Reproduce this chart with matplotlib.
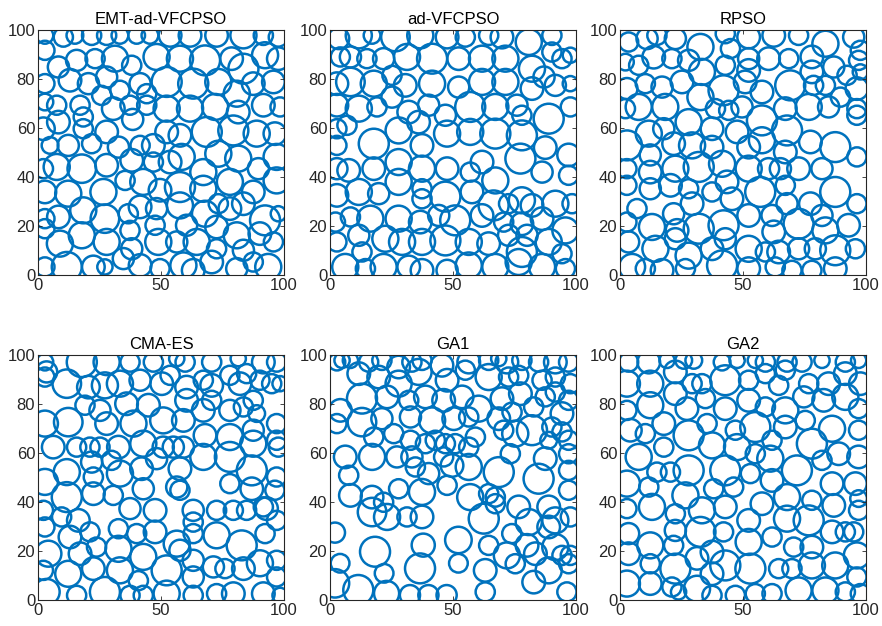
import matplotlib
matplotlib.use('Agg')
import matplotlib.pyplot as plt
from matplotlib.patches import Circle

plt.rcParams['font.family'] = ['Liberation Sans', 'DejaVu Sans']

titles = ['EMT-ad-VFCPSO', 'ad-VFCPSO', 'RPSO', 'CMA-ES', 'GA1', 'GA2']

# each circle: (x centre, y centre, radius)
# ---------------- EMT-ad-VFCPSO ----------------
emt = [
    (2.8, 97.8, 3.4), (10.3, 97.1, 3.9), (15.0, 97.8, 3.4), (21.8, 97.8, 3.9), (27.9, 97.8, 3.9),
    (33.3, 97.8, 3.4), (40.1, 97.8, 3.4), (45.5, 97.8, 3.4), (53.7, 97.8, 4.6), (61.8, 97.8, 4.6),
    (72.6, 97.8, 4.6), (83.5, 97.8, 5.3), (91.6, 97.8, 3.9), (97.7, 97.1, 3.9),
    (2.8, 91.7, 3.9), (15.7, 87.6, 4.3), (23.2, 88.3, 3.9), (31.3, 88.3, 5.3), (38.1, 85.6, 3.9),
    (48.2, 89.0, 5.3), (57.7, 88.3, 5.3), (67.9, 87.6, 6.1), (78.7, 88.3, 4.6), (83.5, 84.2, 6.1),
    (92.3, 89.7, 5.3), (97.7, 88.3, 4.6),
    (2.8, 78.1, 3.9), (8.3, 84.9, 4.3), (13.0, 79.5, 4.6), (20.5, 78.1, 4.3), (27.9, 80.8, 4.3),
    (33.3, 75.4, 3.9), (41.5, 78.1, 4.3), (44.2, 74.0, 3.9), (52.3, 78.8, 6.1), (63.1, 78.1, 6.1),
    (73.3, 78.8, 5.3), (80.8, 74.0, 5.3), (87.5, 78.1, 4.6), (95.7, 78.8, 4.6),
    (2.8, 70.6, 3.4), (7.6, 69.3, 3.9), (8.3, 62.4, 4.6), (17.1, 69.3, 3.9), (18.4, 64.5, 3.9),
    (25.9, 73.3, 3.9), (30.6, 67.9, 4.6), (37.4, 69.3, 3.9), (38.5, 63.5, 4.3), (44.2, 69.3, 3.9),
    (52.3, 67.9, 5.3), (61.8, 67.9, 5.3), (72.0, 68.6, 5.3), (81.4, 66.5, 4.6), (91.6, 69.3, 4.6),
    (98.4, 68.6, 3.9),
    (2.2, 59.7, 4.6), (4.9, 52.9, 3.4), (12.3, 52.9, 4.3), (18.4, 59.7, 3.9), (21.8, 53.6, 3.9),
    (27.9, 58.4, 4.6), (32.7, 52.2, 4.3), (41.5, 52.9, 3.9), (46.9, 52.9, 4.6), (52.3, 58.4, 4.6),
    (57.7, 57.0, 4.6), (68.6, 58.4, 6.1), (79.4, 59.0, 6.1), (88.9, 57.7, 5.3), (96.3, 57.7, 4.6),
    (2.2, 43.4, 3.9), (7.6, 44.1, 5.3), (17.8, 43.4, 5.8), (27.9, 44.8, 4.6), (38.1, 46.8, 4.6),
    (46.9, 46.1, 3.9), (53.7, 46.1, 4.6), (58.4, 48.2, 5.3), (67.2, 42.0, 5.3), (73.3, 49.5, 5.3),
    (81.4, 47.5, 5.3), (89.6, 43.4, 4.3), (97.0, 48.2, 5.3),
    (2.8, 33.9, 4.6), (12.3, 33.2, 5.3), (26.6, 33.9, 5.3), (35.4, 38.6, 3.9), (42.8, 38.0, 5.3),
    (49.6, 34.6, 4.6), (57.7, 35.9, 6.1), (67.2, 35.2, 5.3), (78.0, 38.0, 5.3), (87.5, 33.9, 4.6),
    (97.0, 38.6, 5.3),
    (2.8, 23.0, 3.9), (8.3, 23.7, 4.6), (18.4, 26.4, 5.3), (27.2, 23.0, 5.8), (36.7, 25.0, 3.9),
    (41.5, 27.8, 4.6), (48.2, 27.1, 4.3), (57.7, 28.4, 5.3), (67.9, 25.0, 5.3), (73.3, 29.1, 3.9),
    (78.0, 27.1, 4.6), (83.5, 29.1, 4.6), (92.3, 22.3, 6.1), (97.7, 25.0, 3.1),
    (2.8, 18.9, 3.9), (8.9, 12.8, 5.3), (17.8, 16.2, 5.3), (27.9, 13.5, 5.3), (37.4, 18.2, 3.9),
    (38.1, 10.7, 4.3), (47.6, 20.3, 3.9), (48.9, 13.5, 5.3), (56.4, 13.5, 4.3), (60.4, 20.3, 4.3),
    (64.5, 13.5, 5.3), (72.6, 19.6, 4.6), (72.6, 10.7, 3.9), (80.8, 16.2, 5.3), (83.5, 10.1, 4.3),
    (90.2, 16.9, 4.6), (95.7, 13.5, 3.9),
    (2.8, 3.3, 3.9), (11.7, 3.3, 6.1), (22.5, 3.3, 4.6), (27.2, 3.3, 3.1), (34.7, 6.7, 4.3),
    (41.5, 3.9, 4.6), (49.6, 2.6, 3.9), (59.1, 3.9, 5.3), (63.1, 1.9, 4.6), (70.6, 5.3, 4.6),
    (80.8, 2.6, 4.3), (87.5, 5.3, 3.9), (93.6, 3.3, 5.3),
]

# ---------------- ad-VFCPSO ----------------
advf = [
    (3.5, 96.5, 4.3), (11.7, 97.8, 5.3), (17.1, 97.8, 3.4), (26.6, 97.1, 5.8), (36.7, 97.8, 5.3),
    (47.6, 97.1, 4.6), (55.0, 97.1, 3.9), (64.5, 97.8, 3.9), (69.9, 97.1, 4.6), (80.8, 95.1, 5.3),
    (90.2, 97.8, 3.9),
    (4.2, 89.0, 3.9), (8.3, 89.0, 4.3), (15.0, 88.3, 3.9), (21.8, 88.3, 4.3), (31.3, 89.0, 5.3),
    (41.5, 88.3, 6.1), (52.3, 88.3, 4.6), (61.8, 88.3, 5.3), (71.3, 88.3, 5.3), (82.1, 84.2, 5.3),
    (90.2, 91.0, 3.9), (94.3, 88.3, 3.9), (97.7, 89.7, 3.1),
    (2.8, 78.1, 4.6), (8.3, 78.8, 5.8), (17.8, 78.1, 5.3), (25.2, 81.5, 3.9), (30.6, 77.4, 4.6),
    (41.5, 78.1, 5.3), (52.3, 76.7, 4.3), (61.8, 78.8, 5.3), (71.3, 78.8, 5.3), (82.1, 76.1, 4.6),
    (87.0, 80.8, 4.3), (91.6, 77.4, 4.3), (97.7, 78.1, 3.1),
    (2.8, 69.3, 4.6), (11.7, 67.9, 5.3), (19.1, 68.6, 3.9), (25.2, 72.6, 4.3), (32.0, 66.5, 4.6),
    (40.1, 69.3, 4.3), (46.9, 65.2, 4.3), (57.0, 68.6, 6.1), (67.2, 68.6, 5.3), (76.0, 69.3, 4.3),
    (78.0, 65.2, 3.9), (88.9, 63.8, 6.1), (97.7, 68.6, 3.9),
    (2.8, 59.7, 3.9), (6.9, 61.1, 3.9), (17.8, 53.6, 6.1), (27.9, 59.0, 5.3), (36.0, 62.4, 4.6),
    (37.4, 52.9, 4.6), (47.6, 57.7, 5.3), (57.0, 58.4, 5.3), (67.2, 57.7, 6.1), (78.0, 57.0, 6.1),
    (87.5, 52.0, 4.6), (97.0, 49.0, 4.6), (2.8, 52.9, 3.9),
    (2.8, 43.4, 4.3), (7.6, 42.7, 4.6), (17.8, 43.4, 4.6), (27.9, 46.1, 5.3), (37.4, 43.4, 5.3),
    (47.6, 43.4, 4.6), (57.0, 42.0, 3.9), (61.8, 46.1, 4.6), (67.2, 38.6, 5.3), (77.4, 47.5, 6.1),
    (86.2, 42.0, 4.3), (97.0, 40.7, 3.9),
    (2.8, 32.5, 4.6), (11.7, 33.9, 5.3), (19.8, 33.2, 4.3), (27.9, 38.0, 5.3), (37.4, 35.2, 3.9),
    (37.4, 31.1, 3.9), (46.9, 32.0, 6.1), (57.7, 33.9, 4.6), (66.5, 28.4, 6.1), (72.6, 29.1, 3.9),
    (78.0, 30.5, 5.3), (82.1, 28.4, 4.6), (91.6, 29.1, 5.3), (98.4, 29.1, 3.9),
    (2.2, 21.6, 3.9), (8.3, 23.7, 3.9), (16.4, 23.0, 5.3), (27.9, 23.0, 5.3), (36.7, 21.6, 4.6),
    (44.2, 24.3, 4.3), (50.9, 22.3, 6.1), (61.8, 24.3, 4.6), (70.6, 21.6, 3.9), (78.0, 20.9, 4.6),
    (86.2, 23.0, 4.6), (95.7, 18.2, 5.3),
    (2.8, 13.5, 3.9), (11.7, 16.2, 4.3), (13.0, 9.4, 3.9), (22.5, 14.8, 5.3), (29.3, 13.5, 5.3),
    (37.4, 13.5, 5.3), (46.9, 14.1, 6.1), (56.4, 13.5, 5.3), (64.5, 12.8, 4.6), (72.6, 16.2, 4.3),
    (80.1, 16.2, 4.3), (78.0, 9.4, 6.1), (88.9, 13.5, 5.3), (94.3, 8.7, 3.9),
    (6.2, 3.3, 5.3), (14.4, 2.6, 3.9), (21.8, 3.3, 5.3), (32.0, 3.3, 4.6), (37.4, 1.9, 4.6),
    (47.6, 1.9, 4.3), (56.4, 3.9, 5.3), (67.2, 3.3, 5.3), (76.7, 5.3, 5.3), (86.2, 3.3, 5.3),
    (95.7, 2.6, 3.9),
]

# ---------------- RPSO ----------------
rpso = [
    (3.5, 95.1, 3.9), (11.0, 96.5, 4.3), (15.0, 97.8, 3.9), (22.5, 96.5, 4.3), (32.7, 93.1, 5.3),
    (42.8, 98.5, 3.9), (44.9, 92.4, 3.9), (52.3, 97.1, 4.6), (62.5, 97.8, 4.6), (72.6, 97.8, 3.9),
    (83.5, 94.4, 5.3), (95.0, 97.1, 4.3), (97.7, 91.7, 3.9),
    (2.2, 86.9, 3.4), (7.6, 85.6, 3.9), (13.7, 88.9, 4.6), (21.1, 88.3, 3.9), (27.9, 87.6, 4.3),
    (33.3, 82.9, 5.3), (42.8, 85.6, 3.9), (52.3, 88.3, 4.3), (52.3, 83.5, 4.6), (60.4, 88.3, 4.6),
    (68.6, 88.3, 3.9), (78.0, 89.0, 4.6), (78.0, 82.9, 4.6), (86.9, 84.9, 4.3), (92.3, 81.5, 3.9),
    (97.0, 87.6, 3.9), (97.7, 82.9, 3.1),
    (2.8, 76.1, 4.3), (10.3, 78.1, 3.9), (17.1, 76.7, 4.3), (25.2, 78.8, 4.6), (32.7, 72.6, 5.3),
    (42.1, 75.4, 6.1), (50.9, 78.8, 4.6), (57.7, 74.7, 4.6), (69.2, 77.4, 6.1), (78.7, 77.4, 3.9),
    (83.5, 77.4, 3.9), (89.6, 72.6, 3.9), (96.3, 76.1, 4.6),
    (2.2, 67.9, 3.9), (7.6, 68.6, 5.3), (18.4, 68.6, 5.3), (27.9, 62.4, 5.3), (38.8, 67.9, 3.9),
    (44.2, 67.2, 3.9), (49.6, 68.6, 4.3), (57.7, 63.1, 6.1), (67.2, 67.9, 4.6), (76.7, 68.6, 5.3),
    (84.8, 68.6, 4.3), (96.3, 67.9, 3.9), (96.3, 65.2, 3.9),
    (2.8, 52.9, 6.1), (11.7, 57.7, 5.3), (17.8, 59.7, 4.3), (21.8, 53.6, 4.6), (29.3, 52.9, 5.3),
    (37.4, 59.7, 4.6), (37.4, 52.2, 4.6), (47.6, 58.4, 4.6), (52.3, 52.2, 4.6), (57.7, 55.0, 5.3),
    (67.9, 59.0, 6.1), (67.2, 50.2, 4.6), (77.4, 54.3, 4.6), (87.5, 52.2, 6.1),
    (2.8, 43.4, 3.9), (12.3, 49.0, 4.3), (12.3, 42.0, 4.6), (22.5, 43.4, 5.3), (32.0, 44.1, 6.1),
    (41.5, 45.4, 5.3), (52.3, 43.4, 5.3), (60.4, 43.4, 4.3), (65.2, 43.4, 4.3), (72.6, 43.4, 4.6),
    (82.1, 43.4, 4.3), (96.3, 48.2, 3.9),
    (2.8, 36.6, 3.9), (12.3, 35.2, 4.3), (20.5, 36.6, 4.6), (27.9, 35.2, 3.9), (29.3, 29.1, 4.6),
    (37.4, 33.9, 3.9), (43.5, 38.0, 4.6), (45.5, 31.1, 4.6), (57.0, 33.9, 6.1), (67.2, 36.6, 3.9),
    (67.9, 29.1, 4.3), (77.4, 29.1, 4.6), (87.5, 33.9, 6.1), (96.3, 29.1, 3.9),
    (2.8, 21.6, 3.9), (6.9, 27.1, 3.9), (13.0, 19.6, 5.3), (21.8, 25.0, 4.3), (23.2, 18.2, 4.6),
    (32.0, 18.9, 6.1), (42.1, 20.3, 6.1), (52.3, 24.3, 4.6), (61.8, 24.3, 4.3), (62.5, 17.6, 4.6),
    (72.6, 20.9, 6.1), (82.1, 24.3, 4.3), (83.5, 18.2, 5.3), (92.9, 20.3, 4.6),
    (3.5, 13.5, 4.3), (14.4, 10.7, 5.3), (22.5, 14.8, 4.3), (27.9, 7.9, 5.3), (37.4, 10.7, 4.6),
    (42.8, 14.8, 4.3), (52.3, 10.7, 5.3), (59.1, 9.4, 3.9), (64.5, 9.4, 4.6), (72.6, 10.7, 4.3),
    (79.4, 10.7, 4.3), (87.5, 10.1, 6.1), (95.7, 10.7, 3.9),
    (4.9, 3.3, 5.3), (10.3, 2.6, 3.9), (17.1, 1.9, 4.6), (26.6, 2.6, 3.9), (41.5, 3.9, 6.1),
    (52.3, 2.6, 4.6), (63.1, 3.3, 3.9), (69.9, 1.9, 3.9), (78.0, 1.9, 3.9), (87.5, 2.6, 4.6),
]

# ---------------- CMA-ES ----------------
cmaes = [
    (2.8, 97.1, 3.4), (3.5, 93.1, 4.3), (17.8, 97.1, 6.1), (27.9, 97.1, 5.3), (37.4, 97.1, 3.9),
    (46.9, 97.1, 3.9), (56.4, 98.5, 3.1), (59.8, 97.1, 3.9), (70.6, 97.1, 3.9), (81.4, 98.5, 3.1),
    (91.6, 97.1, 4.6), (97.0, 97.1, 3.9),
    (2.8, 91.0, 3.9), (11.7, 88.3, 5.8), (20.5, 86.9, 4.6), (27.2, 87.6, 5.3), (33.3, 88.3, 5.3),
    (41.5, 89.7, 4.3), (50.3, 88.3, 4.6), (53.7, 91.7, 3.9), (60.4, 86.9, 4.6), (67.2, 89.7, 3.9),
    (70.6, 87.6, 4.6), (78.0, 91.7, 3.9), (82.1, 88.3, 4.6), (84.8, 92.4, 3.9), (90.2, 89.7, 3.9),
    (95.0, 88.3, 3.9), (98.4, 88.3, 3.1),
    (2.8, 72.0, 5.3), (12.3, 72.6, 5.8), (19.1, 79.5, 3.9), (25.2, 77.4, 4.3), (27.9, 72.0, 4.6),
    (36.0, 80.1, 4.6), (38.8, 72.0, 5.3), (44.9, 79.5, 4.6), (50.9, 73.3, 5.3), (59.1, 73.3, 4.6),
    (60.4, 81.5, 4.6), (67.2, 77.4, 4.6), (70.6, 81.5, 3.9), (78.0, 77.4, 4.3), (83.5, 78.8, 3.9),
    (87.5, 81.5, 3.9), (88.9, 76.1, 3.4), (97.0, 72.0, 3.9),
    (6.2, 62.4, 4.6), (15.7, 62.4, 3.9), (21.1, 62.4, 3.9), (25.2, 62.4, 3.9), (32.7, 62.4, 4.6),
    (42.8, 63.8, 5.3), (50.9, 62.4, 4.3), (55.0, 62.4, 4.3), (59.1, 62.4, 4.3), (67.2, 58.4, 5.3),
    (67.9, 67.2, 4.6), (78.0, 66.5, 5.3), (78.0, 58.4, 6.1), (87.5, 63.8, 5.3), (87.5, 69.3, 4.3),
    (97.0, 65.2, 3.9), (97.7, 62.4, 3.9),
    (2.8, 48.2, 5.3), (11.7, 52.2, 5.3), (21.8, 56.3, 4.3), (22.5, 50.2, 3.9), (29.9, 57.0, 3.9),
    (33.3, 51.6, 5.3), (42.1, 53.6, 4.6), (48.2, 57.7, 4.3), (57.7, 53.6, 4.6), (56.4, 46.1, 4.3),
    (78.0, 47.5, 3.9), (86.9, 52.9, 6.1), (97.0, 50.2, 3.9),
    (11.7, 42.0, 6.1), (22.5, 43.4, 4.6), (30.6, 42.7, 3.9), (42.8, 45.4, 4.3), (57.7, 44.8, 3.9),
    (86.9, 45.4, 4.6), (91.6, 38.0, 3.9), (96.3, 44.8, 3.9),
    (2.2, 36.6, 3.9), (9.6, 33.9, 3.9), (16.4, 32.5, 4.6), (37.4, 37.3, 4.3), (47.6, 36.6, 4.6),
    (63.1, 36.6, 4.3), (63.1, 31.8, 3.9), (72.6, 36.6, 3.9), (79.4, 36.6, 3.9), (84.8, 36.6, 3.9),
    (92.9, 37.3, 4.6), (97.0, 32.5, 3.9),
    (2.8, 29.8, 3.9), (13.0, 25.7, 4.6), (21.1, 27.8, 3.9), (32.7, 29.1, 3.9), (40.1, 27.1, 3.9),
    (47.6, 27.8, 4.6), (56.4, 23.0, 5.3), (63.1, 27.1, 3.9), (72.6, 26.4, 5.3), (82.8, 22.3, 6.1),
    (92.3, 27.1, 3.9),
    (4.2, 18.9, 5.3), (17.1, 18.9, 4.6), (23.8, 21.6, 3.9), (32.7, 20.9, 5.3), (42.8, 17.6, 5.3),
    (52.3, 12.1, 6.1), (57.7, 20.3, 4.3), (63.1, 16.2, 4.3), (71.3, 13.5, 4.3), (76.0, 12.8, 3.9),
    (83.5, 12.8, 4.6), (90.2, 15.0, 5.3), (97.0, 16.2, 3.9), (97.0, 9.4, 3.9),
    (2.2, 12.1, 3.9), (12.3, 10.7, 5.3), (22.5, 12.8, 4.6), (33.3, 12.1, 5.3), (40.8, 7.9, 3.9),
    (63.1, 9.4, 4.3),
    (3.5, 3.3, 5.3), (15.7, 1.9, 3.9), (27.2, 3.3, 6.1), (37.4, 1.9, 3.9), (42.8, 1.9, 3.9),
    (52.3, 2.6, 5.3), (63.1, 1.9, 3.9), (72.6, 2.6, 3.9), (79.4, 2.6, 4.6), (91.6, 2.6, 4.6),
    (98.4, 1.9, 3.1),
]

# ---------------- GA1 ----------------
ga1 = [
    (2.8, 97.1, 3.4), (4.9, 97.8, 3.1), (8.3, 97.8, 3.1), (15.7, 97.1, 3.9), (21.1, 97.8, 3.9),
    (27.9, 95.1, 4.6), (33.3, 97.1, 3.9), (37.4, 97.8, 3.9), (45.5, 95.8, 4.6), (56.4, 97.1, 4.6),
    (64.5, 97.8, 3.9), (68.6, 98.5, 3.1), (71.9, 97.1, 4.6), (78.0, 97.8, 3.9), (84.8, 97.1, 3.9),
    (91.6, 97.1, 4.6), (97.0, 97.1, 3.9),
    (11.7, 92.4, 4.6), (19.8, 91.0, 4.6), (27.9, 88.3, 5.3), (36.0, 93.1, 5.3), (47.6, 89.7, 4.6),
    (55.0, 93.8, 3.9), (64.5, 91.0, 5.3), (72.6, 91.0, 3.9), (76.7, 91.7, 3.9), (86.2, 89.7, 3.9),
    (91.6, 91.0, 3.9), (97.7, 88.3, 3.9),
    (13.0, 82.2, 6.1), (23.2, 82.9, 4.6), (32.0, 81.5, 3.9), (38.8, 82.9, 4.6), (46.2, 81.5, 4.6),
    (53.7, 82.9, 4.6), (60.4, 78.1, 5.3), (69.9, 82.2, 4.6), (77.4, 84.2, 4.6), (82.8, 78.8, 3.9),
    (87.5, 82.9, 3.9), (91.6, 84.9, 3.9), (97.0, 81.5, 3.9), (4.2, 77.4, 4.6),
    (2.8, 72.0, 3.9), (13.0, 72.6, 5.8), (21.1, 74.0, 4.3), (32.7, 74.7, 4.3), (41.5, 73.3, 5.3),
    (50.3, 74.0, 4.6), (56.4, 74.7, 3.9), (68.6, 74.0, 4.6), (74.0, 76.7, 3.9), (70.6, 69.3, 3.9),
    (75.3, 67.9, 5.3), (82.1, 69.3, 6.1), (90.2, 70.6, 3.9), (94.3, 76.1, 4.6),
    (17.8, 66.5, 3.9), (25.9, 67.9, 3.9), (32.7, 65.2, 3.9), (38.8, 63.8, 3.9), (42.8, 65.2, 3.9),
    (46.9, 63.8, 3.9), (50.9, 63.8, 3.9), (56.4, 62.4, 3.9), (59.1, 66.5, 3.9), (73.3, 59.7, 3.9),
    (88.9, 65.2, 3.4), (97.0, 65.2, 3.9), (94.3, 68.6, 3.9),
    (6.2, 58.4, 4.6), (17.1, 58.4, 5.3), (27.2, 58.4, 4.3), (33.3, 58.4, 4.3), (34.7, 54.3, 3.9),
    (40.1, 51.6, 4.3), (46.2, 58.4, 3.9), (49.6, 54.9, 4.6), (56.4, 54.3, 5.3), (68.6, 52.2, 6.1),
    (84.8, 49.5, 6.1), (87.5, 57.7, 4.6), (97.0, 59.7, 3.9), (97.0, 52.9, 3.9), (7.6, 50.9, 3.9),
    (8.3, 42.7, 4.6), (17.1, 42.0, 4.6), (21.8, 39.9, 3.9), (27.9, 45.4, 3.9), (37.4, 44.1, 5.3),
    (47.6, 46.8, 3.9), (57.0, 42.0, 5.3), (64.5, 43.4, 3.9), (67.2, 42.0, 3.9), (67.2, 39.3, 3.9),
    (76.7, 38.0, 4.6), (88.9, 38.0, 4.6), (97.0, 44.8, 3.9),
    (17.1, 35.9, 5.8), (23.2, 33.9, 5.3), (31.3, 33.9, 3.9), (37.4, 33.9, 4.6), (62.5, 33.2, 6.1),
    (73.9, 27.1, 3.9), (80.8, 31.8, 5.3), (88.9, 29.8, 4.6), (91.6, 32.5, 5.3), (97.7, 33.9, 3.9),
    (2.0, 27.5, 4.1),
    (18.3, 19.7, 6.1), (37.9, 22.4, 4.7), (52.2, 24.5, 5.4), (64.5, 22.3, 3.9), (71.9, 18.2, 5.3),
    (80.1, 22.3, 4.6), (83.5, 18.9, 4.6), (91.6, 21.6, 5.3), (94.3, 18.2, 3.9), (97.7, 18.2, 3.9),
    (4.1, 15.0, 3.8), (36.6, 12.9, 6.1), (52.2, 15.0, 3.8), (22.0, 10.9, 3.8), (63.1, 12.1, 4.6),
    (75.3, 14.8, 3.9), (88.9, 12.1, 5.3), (97.0, 14.8, 3.9), (82.8, 7.3, 4.6),
    (2.0, 6.8, 5.8), (11.5, 4.1, 6.1), (23.0, 2.7, 5.1), (32.5, 2.0, 4.1), (40.0, 2.0, 4.1),
    (47.4, 2.0, 4.1), (63.1, 3.3, 3.9), (96.3, 3.3, 3.9),
]

# ---------------- GA2 ----------------
ga2 = [
    (3.5, 97.1, 3.9), (11.7, 97.1, 4.6), (19.1, 97.8, 3.1), (25.9, 97.8, 3.4), (30.0, 97.8, 3.4),
    (41.5, 97.1, 3.4), (47.6, 97.8, 3.1), (55.0, 97.8, 3.1), (59.1, 97.1, 3.9), (67.9, 97.1, 3.9),
    (74.0, 97.1, 3.9), (82.1, 97.8, 3.1), (91.6, 97.1, 3.9), (97.0, 97.8, 3.1),
    (2.8, 88.3, 5.3), (12.3, 88.3, 5.3), (22.5, 93.1, 4.6), (29.3, 88.3, 3.9), (33.3, 88.3, 3.9),
    (42.8, 89.7, 6.1), (52.3, 89.7, 3.9), (59.1, 92.4, 3.9), (64.5, 87.6, 3.9), (67.2, 93.8, 3.9),
    (76.7, 88.3, 3.9), (84.8, 88.3, 4.6), (91.6, 92.4, 4.6), (97.7, 88.3, 4.6),
    (2.8, 77.4, 3.9), (12.3, 79.5, 5.3), (22.5, 84.2, 4.6), (27.2, 78.1, 4.6), (34.7, 82.2, 3.9),
    (42.8, 78.1, 4.6), (52.3, 81.5, 4.6), (59.1, 78.8, 3.9), (67.2, 77.4, 5.3), (74.7, 82.9, 4.3),
    (82.8, 81.5, 4.6), (91.6, 82.9, 5.3), (97.0, 78.1, 3.9),
    (4.2, 69.3, 4.6), (10.3, 67.9, 3.9), (17.8, 72.0, 4.6), (27.9, 67.2, 6.1), (35.4, 72.0, 3.9),
    (37.4, 63.1, 5.3), (46.9, 69.3, 3.9), (47.6, 62.4, 5.3), (55.0, 70.6, 6.1), (61.8, 65.2, 3.9),
    (67.2, 70.6, 4.6), (75.3, 73.3, 3.9), (78.0, 63.8, 6.1), (86.2, 69.9, 5.3), (97.0, 69.3, 3.9),
    (7.6, 58.4, 5.3), (17.8, 62.4, 3.9), (15.0, 52.2, 3.9), (20.5, 52.2, 3.9), (27.9, 52.9, 6.1),
    (42.8, 52.9, 6.1), (53.0, 51.6, 3.9), (55.0, 59.7, 3.9), (61.1, 57.7, 5.3), (71.9, 52.9, 6.1),
    (82.1, 57.0, 3.9), (88.9, 59.7, 4.6), (97.0, 58.4, 4.6),
    (2.8, 47.5, 5.3), (11.7, 46.1, 3.9), (26.6, 42.7, 5.3), (38.1, 45.4, 3.9), (46.2, 46.1, 3.9),
    (61.8, 48.8, 4.6), (67.9, 42.0, 5.3), (78.0, 40.7, 3.9), (86.2, 47.5, 4.6), (95.7, 47.5, 4.6),
    (2.8, 37.3, 3.9), (13.0, 38.0, 5.3), (22.5, 35.2, 3.9), (33.3, 36.6, 5.3), (42.8, 38.0, 4.6),
    (52.3, 32.5, 4.6), (57.7, 39.3, 4.6), (67.9, 33.2, 5.3), (76.7, 32.5, 6.1), (86.9, 38.6, 4.6),
    (91.6, 27.8, 3.9), (97.0, 41.4, 3.4), (97.0, 36.6, 3.9),
    (3.5, 27.1, 4.3), (12.3, 22.3, 5.3), (22.5, 28.4, 4.3), (32.7, 27.8, 6.1), (42.1, 27.8, 3.9),
    (52.3, 23.7, 5.3), (61.8, 25.7, 3.9), (70.6, 21.6, 3.9), (78.0, 21.6, 4.6), (86.2, 27.8, 4.6),
    (95.0, 27.8, 3.9), (3.5, 18.9, 4.6), (21.8, 22.3, 3.9), (37.4, 19.6, 4.6), (96.3, 18.2, 5.3),
    (12.3, 14.8, 3.9), (22.5, 12.8, 6.1), (31.3, 17.0, 4.6), (37.4, 10.7, 4.6), (42.8, 14.1, 6.1),
    (53.0, 12.8, 6.1), (64.5, 12.8, 3.9), (69.9, 12.8, 3.9), (78.0, 14.1, 5.3), (87.5, 14.1, 5.3),
    (96.3, 9.4, 3.9),
    (2.8, 6.7, 5.3), (12.3, 6.7, 4.6), (21.1, 5.3, 3.9), (23.8, 3.3, 3.1), (31.3, 4.6, 5.3),
    (37.4, 1.9, 3.9), (46.9, 1.9, 3.9), (55.0, 2.6, 3.9), (61.8, 2.6, 3.9), (72.6, 3.9, 5.3),
    (83.5, 3.9, 5.3), (91.6, 3.3, 3.9), (97.7, 2.6, 3.9),
]

panels = [emt, advf, rpso, cmaes, ga1, ga2]
xticks = [0, 50, 100]
yticks = [0, 20, 40, 60, 80, 100]

fig = plt.figure(figsize=(8.82, 6.26), dpi=100)
W, H = 882.0, 626.0
lefts = [38 / W, 330 / W, 620 / W]
bottoms = [1 - 275 / H, 1 - 600 / H]
aw, ah = 246 / W, 245 / H

for i, (title, circles) in enumerate(zip(titles, panels)):
    ax = fig.add_axes([lefts[i % 3], bottoms[i // 3], aw, ah])
    for (cx, cy, r) in circles:
        ax.add_patch(Circle((cx, cy), r, fill=False, edgecolor='#0072BD', linewidth=1.8))
    ax.set_xlim(0, 100)
    ax.set_ylim(0, 100)
    ax.set_xticks(xticks)
    ax.set_yticks(yticks)
    ax.tick_params(direction='in', length=3, width=0.6, labelsize=12, colors='#262626',
                   top=True, right=True, pad=2)
    for s in ax.spines.values():
        s.set_linewidth(0.8)
        s.set_color('#262626')
    ax.set_title(title, fontsize=12, pad=4, color='black')

fig.savefig('out.png', dpi=100)
